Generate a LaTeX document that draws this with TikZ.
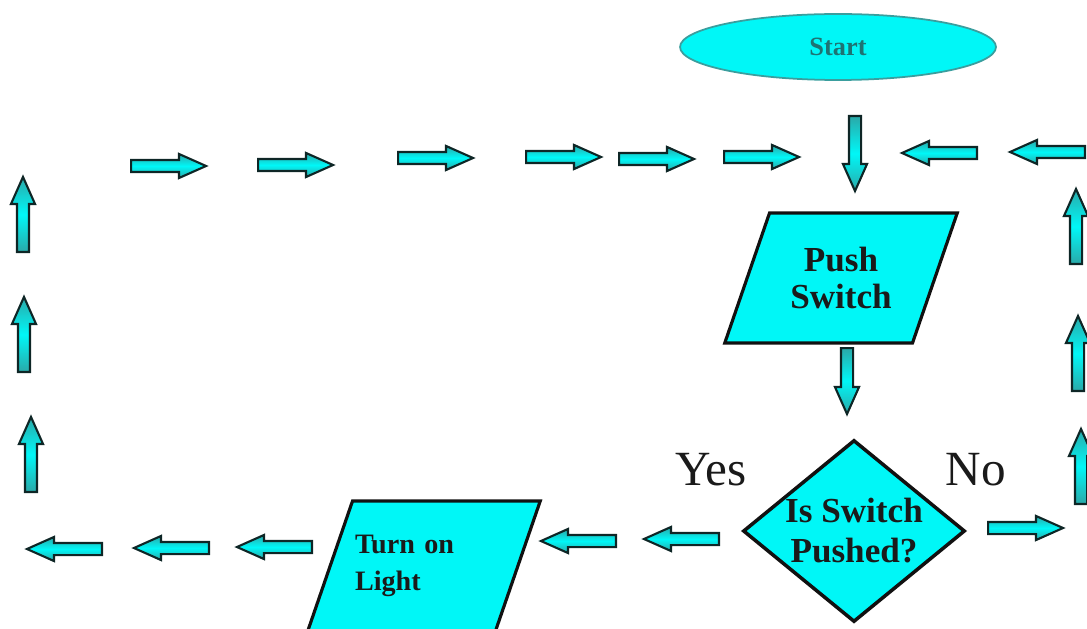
\documentclass[tikz,border=0pt]{standalone}
\usepackage{fontspec}
\setmainfont{Liberation Serif}
\usetikzlibrary{
  positioning,
  shapes.geometric,
  shapes.arrows,
}
\definecolor{border}{HTML}{111111}
\definecolor{fillCyan}{HTML}{00F7F7}
\definecolor{startLine}{HTML}{3A9E9E}
\definecolor{startText}{HTML}{1E7373}
\definecolor{arrowTeal}{HTML}{2AA9A9}
\definecolor{arrowLine}{HTML}{0E2626}
\definecolor{textMain}{HTML}{1A1A1A}
\tikzset{
  startbox/.style={
    ellipse, draw=startLine, fill=fillCyan, line width=1pt,
    minimum width=6.32cm, minimum height=1.32cm, inner sep=0pt,
    font=\fontsize{15}{17}\selectfont\bfseries, text=startText,
  },
  iobox/.style={
    trapezium, trapezium left angle=71, trapezium right angle=109,
    draw=border, fill=fillCyan, line width=1.8pt,
    inner xsep=1.43cm, inner ysep=1.3cm,
  },
  iotext/.style={text=textMain, font=\fontsize{20}{21}\selectfont\bfseries},
  decisionbox/.style={
    diamond, shape aspect=1.22, draw=border, fill=fillCyan, line width=2pt,
    minimum width=4.44cm, minimum height=3.64cm, inner sep=0pt, align=center,
    font=\fontsize{20}{22.8}\selectfont\bfseries, text=textMain,
  },
  blockarrow/.style={
    single arrow, draw=arrowLine, line width=1.2pt, anchor=tail,
    top color=arrowTeal, bottom color=arrowTeal, middle color=fillCyan,
    minimum height=1.5cm, minimum width=0.44cm, inner xsep=0pt, inner ysep=0.1cm,
    single arrow head extend=0.12cm, single arrow tip angle=48,
  },
  rblock/.style={blockarrow},
  lblock/.style={blockarrow, rotate=180},
  ublock/.style={blockarrow, rotate=90},
  dblock/.style={blockarrow, rotate=-90},
  answer/.style={font=\fontsize{28}{30}\selectfont, text=textMain},
}

\begin{document}
\begin{tikzpicture}[x=0.02cm, y=-0.02cm]

  \useasboundingbox (0,0) rectangle (1087,628);

  % Start
  \node[startbox] (start) at (838, 47) {Start};

  % Top row (placed by tail)
  \node[rblock] (top1) at (130, 166) {};
  \node[rblock] (top2) at (257, 165) {};
  \node[rblock] (top3) at (397, 158) {};
  \node[rblock] (top4) at (525, 157) {};
  \node[rblock] (top5) at (618, 159) {};
  \node[rblock] (top6) at (723, 157) {};
  \node[dblock] (down1) at (855, 115) {};
  \node[lblock] (back1) at (978, 153) {};
  \node[lblock] (back2) at (1086, 152) {};

  % Push switch
  \node[iobox, label={[iotext, align=center]center:{Push\\Switch}}]
    (push) at (841, 278) {};
  \node[dblock, minimum height=1.32cm] (down2) at (847, 347) {};

  % Decision
  \node[decisionbox] (check) at (854, 531) {Is Switch\\Pushed?};
  \node[answer] (yes) at (711, 470) {Yes};
  \node[answer] (no) at (976, 470) {No};

  % No branch
  \node[rblock] (nobr) at (987, 528) {};
  \node[ublock] (right1) at (1081, 505) {};
  \node[ublock] (right2) at (1078, 392) {};
  \node[ublock] (right3) at (1076, 265) {};

  % Yes branch
  \node[lblock] (yes1) at (720, 539) {};
  \node[lblock] (yes2) at (617, 541) {};
  \node[iobox, label={[iotext, text width=2.76cm, align=left,
    font=\fontsize{16}{21}\selectfont\bfseries]center:{Turn on\\Light}}]
    (light) at (424, 566) {};
  \node[lblock] (bot1) at (313, 547) {};
  \node[lblock] (bot2) at (210, 548) {};
  \node[lblock] (bot3) at (103, 549) {};

  % Left column
  \node[ublock] (left1) at (31, 493) {};
  \node[ublock] (left2) at (24, 373) {};
  \node[ublock] (left3) at (23, 253) {};

\end{tikzpicture}
\end{document}
